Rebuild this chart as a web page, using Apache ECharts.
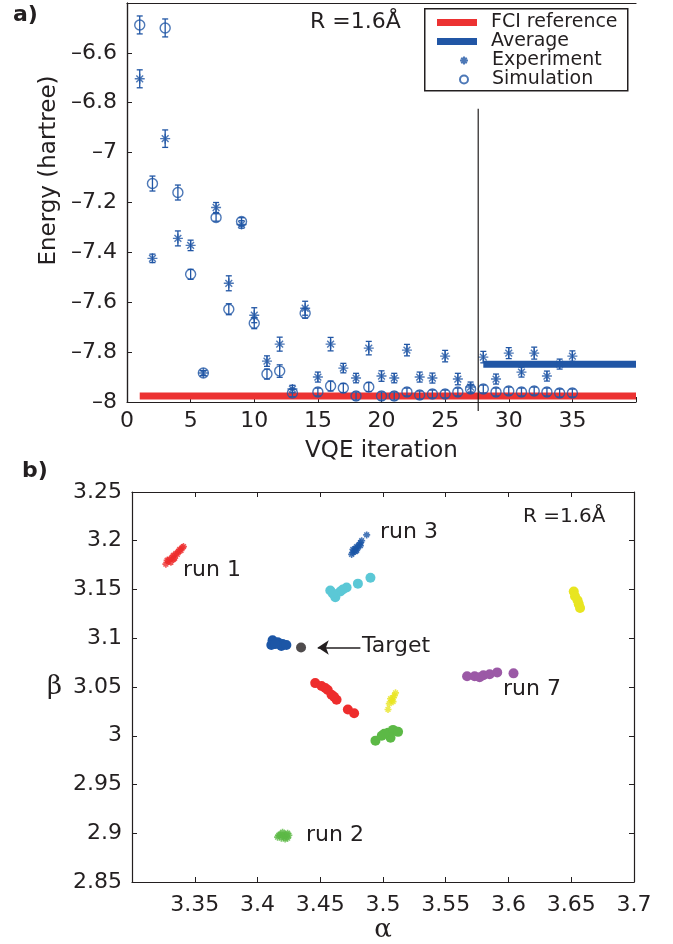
<!DOCTYPE html>
<html>
<head>
<meta charset="utf-8">
<script src="https://cdn.jsdelivr.net/npm/echarts@6/dist/echarts.min.js"></script>
<style>
  html, body { margin: 0; padding: 0; background: #fff; }
  #chart { width: 673px; height: 944px; }
</style>
</head>
<body>
<div id="chart"></div>
<script>
// ---- panel a: VQE iterations ----
const iterations = [1,2,3,4,5,6,7,8,9,10,11,12,13,14,15,16,17,18,19,20,21,22,23,24,25,26,27,28,29,30,31,32,33,34,35];
const experiment = [-6.704,-7.424,-6.944,-7.344,-7.372,-7.884,-7.22,-7.524,-7.288,-7.652,-7.836,-7.768,-7.948,-7.624,-7.9,-7.768,-7.864,-7.904,-7.784,-7.896,-7.904,-7.792,-7.9,-7.904,-7.816,-7.908,-7.94,-7.82,-7.908,-7.804,-7.88,-7.804,-7.896,-7.848,-7.816];
const experimentErr = [0.036,0.017,0.035,0.03,0.021,0.01,0.02,0.03,0.015,0.03,0.021,0.028,0.015,0.028,0.02,0.027,0.019,0.019,0.027,0.021,0.019,0.023,0.02,0.02,0.023,0.023,0.02,0.023,0.02,0.022,0.02,0.024,0.02,0.02,0.021];
const simulation = [-6.488,-7.124,-6.5,-7.16,-7.488,-7.884,-7.26,-7.628,-7.276,-7.684,-7.888,-7.876,-7.964,-7.644,-7.96,-7.936,-7.944,-7.976,-7.94,-7.976,-7.976,-7.96,-7.972,-7.968,-7.968,-7.96,-7.948,-7.948,-7.96,-7.956,-7.96,-7.956,-7.96,-7.964,-7.964];
const simulationErr = [0.036,0.03,0.036,0.03,0.02,0.01,0.015,0.022,0.015,0.022,0.02,0.025,0.015,0.02,0.016,0.02,0.018,0.016,0.018,0.016,0.016,0.016,0.016,0.016,0.016,0.016,0.016,0.016,0.016,0.016,0.016,0.016,0.016,0.016,0.016];
const fciReference = -7.976;
const fciRange = [1, 40];
const average = -7.849;
const averageRange = [28, 40];
const dividerX = 27.6;
const dividerRange = [-6.824, -8.036];

// ---- panel b: alpha / beta runs ----
const run1Red = [[3.327,3.176],[3.329,3.179],[3.330,3.181],[3.331,3.178],[3.332,3.183],[3.333,3.185],[3.334,3.182],[3.335,3.187],[3.337,3.189],[3.338,3.191],[3.340,3.193],[3.341,3.194],[3.328,3.180],[3.333,3.181],[3.336,3.186],[3.339,3.190]];
const run3Blue = [[3.475,3.186],[3.476,3.188],[3.477,3.190],[3.478,3.189],[3.478,3.192],[3.479,3.194],[3.480,3.193],[3.481,3.196],[3.482,3.198],[3.483,3.200],[3.476,3.191],[3.479,3.190],[3.482,3.195],[3.487,3.206]];
const run2Green = [[3.416,2.896],[3.418,2.899],[3.419,2.895],[3.420,2.898],[3.421,2.896],[3.422,2.899],[3.423,2.897],[3.424,2.895],[3.425,2.898],[3.417,2.898],[3.422,2.894],[3.420,2.901],[3.424,2.900]];
const yellowStars = [[3.504,3.027],[3.505,3.033],[3.507,3.036],[3.508,3.039],[3.509,3.041],[3.510,3.044],[3.508,3.035],[3.506,3.038]];
const blueDots = [[3.412,3.098],[3.416,3.096],[3.420,3.094],[3.411,3.093],[3.419,3.092],[3.414,3.094],[3.423,3.093]];
const cyanDots = [[3.458,3.149],[3.462,3.142],[3.466,3.148],[3.471,3.152],[3.468,3.150],[3.460,3.146],[3.480,3.156],[3.490,3.162]];
const redDots = [[3.446,3.054],[3.451,3.051],[3.456,3.047],[3.459,3.042],[3.463,3.037],[3.454,3.049],[3.461,3.040],[3.472,3.027],[3.477,3.023]];
const greenDots = [[3.494,2.995],[3.499,3.000],[3.504,3.003],[3.508,3.006],[3.512,3.004],[3.506,2.998],[3.501,3.002]];
const yellowDots = [[3.652,3.148],[3.653,3.143],[3.655,3.139],[3.656,3.135],[3.657,3.131]];
const purpleDots = [[3.567,3.061],[3.573,3.061],[3.580,3.062],[3.585,3.063],[3.591,3.065],[3.577,3.060],[3.604,3.064]];
const target = [3.4347, 3.0905];
const arrowFrom = [3.482, 3.0905];
const arrowTo = [3.448, 3.0905];

const ink = '#231f20';
const blue = '#2156a5';
const font = 'DejaVu Sans';
const starPath = 'path://M5,0L5,10M0,5L10,5M1.6,1.6L8.4,8.4M1.6,8.4L8.4,1.6';

function errorBars(values, errs, color) {
  return {
    type: 'custom',
    xAxisIndex: 0, yAxisIndex: 0,
    silent: true,
    data: iterations.map((it, i) => [it, values[i], errs[i]]),
    encode: { x: 0, y: 1 },
    renderItem(params, api) {
      const x = api.value(0), y = api.value(1), e = api.value(2);
      const top = api.coord([x, y + e]);
      const bot = api.coord([x, y - e]);
      const st = { stroke: color, lineWidth: 1.3 };
      return {
        type: 'group',
        children: [
          { type: 'line', shape: { x1: top[0], y1: top[1], x2: bot[0], y2: bot[1] }, style: st },
          { type: 'line', shape: { x1: top[0] - 3, y1: top[1], x2: top[0] + 3, y2: top[1] }, style: st },
          { type: 'line', shape: { x1: bot[0] - 3, y1: bot[1], x2: bot[0] + 3, y2: bot[1] }, style: st }
        ]
      };
    }
  };
}

function dots(data, color) {
  return { type: 'scatter', xAxisIndex: 2, yAxisIndex: 2, data, symbolSize: 10, itemStyle: { color, opacity: 1 }, silent: true };
}
function stars(data, color) {
  return {
    type: 'scatter', xAxisIndex: 2, yAxisIndex: 2, data, symbol: starPath, symbolSize: 7,
    itemStyle: { color, borderColor: color, borderWidth: 1.6 }, silent: true
  };
}

const labelStyle = { color: ink, fontFamily: font, fontSize: 22 };
const plainAxis = {
  axisLine: { show: true, lineStyle: { color: ink, width: 1.2 } },
  axisTick: { show: false },
  axisLabel: { show: false },
  splitLine: { show: false }
};
const legendText = { color: ink, fontFamily: font, fontSize: 19 };

const chart = echarts.init(document.getElementById('chart'));
chart.setOption({
  animation: false,
  textStyle: { fontFamily: font },
  grid: [
    { left: 127, top: 3, width: 509, height: 399 },
    { left: 132, top: 492, width: 502, height: 390 }
  ],
  xAxis: [
    {
      gridIndex: 0, type: 'value', min: 0, max: 40, interval: 5,
      name: 'VQE iteration', nameLocation: 'middle', nameGap: 38,
      nameTextStyle: { color: ink, fontFamily: font, fontSize: 23 },
      axisLine: { lineStyle: { color: ink, width: 1.2 } },
      axisTick: { inside: true, length: 5, lineStyle: { color: ink } },
      axisLabel: { ...labelStyle, margin: 8, formatter: v => (v === 40 ? '' : String(v)) },
      splitLine: { show: false }
    },
    { gridIndex: 0, type: 'value', min: 0, max: 40, position: 'top', ...plainAxis },
    {
      gridIndex: 1, type: 'value', min: 3.3, max: 3.7, interval: 0.05,
      name: 'α', nameLocation: 'middle', nameGap: 30,
      nameTextStyle: { color: ink, fontFamily: 'DejaVu Serif', fontSize: 26 },
      axisLine: { lineStyle: { color: ink, width: 1.2 } },
      axisTick: { inside: true, length: 5, lineStyle: { color: ink } },
      axisLabel: { ...labelStyle, margin: 12, formatter: v => (Math.abs(v - 3.3) < 1e-6 ? '' : String(+v.toFixed(2))) },
      splitLine: { show: false }
    },
    {
      gridIndex: 1, type: 'value', min: 3.3, max: 3.7, interval: 0.05, position: 'top',
      ...plainAxis, axisTick: { show: true, inside: true, length: 5, lineStyle: { color: ink } }
    }
  ],
  yAxis: [
    {
      gridIndex: 0, type: 'value', min: -8, max: -6.4, interval: 0.2,
      name: 'Energy (hartree)', nameLocation: 'middle', nameGap: 66, nameRotate: 90,
      nameTextStyle: { color: ink, fontFamily: font, fontSize: 23, padding: [0, 0, 0, 64] },
      axisLine: { lineStyle: { color: ink, width: 1.2 } },
      axisTick: { inside: true, length: 5, lineStyle: { color: ink } },
      axisLabel: {
        ...labelStyle, margin: 10,
        formatter: v => (Math.abs(v + 6.4) < 1e-6 ? '' : String(+v.toFixed(1)).replace('-', '\u2013'))
      },
      splitLine: { show: false }
    },
    { gridIndex: 0, type: 'value', min: -8, max: -6.4, position: 'right', ...plainAxis },
    {
      gridIndex: 1, type: 'value', min: 2.85, max: 3.25, interval: 0.05,
      name: 'β', nameLocation: 'middle', nameGap: 70, nameRotate: 0,
      nameTextStyle: { color: ink, fontFamily: 'DejaVu Serif', fontSize: 26 },
      axisLine: { lineStyle: { color: ink, width: 1.2 } },
      axisTick: { inside: true, length: 5, lineStyle: { color: ink } },
      axisLabel: { ...labelStyle, margin: 10, formatter: v => String(+v.toFixed(2)) },
      splitLine: { show: false }
    },
    {
      gridIndex: 1, type: 'value', min: 2.85, max: 3.25, interval: 0.05, position: 'right',
      ...plainAxis, axisTick: { show: true, inside: true, length: 5, lineStyle: { color: ink } }
    }
  ],
  legend: [
    {
      left: 432, top: 8, orient: 'vertical', itemWidth: 40, itemHeight: 7, itemGap: 0,
      data: [{ name: 'FCI reference', icon: 'rect' }, { name: 'Average', icon: 'rect' }],
      textStyle: { ...legendText, padding: [0, 0, 0, 9] },
      selectedMode: false
    },
    {
      left: 454, top: 46, orient: 'vertical', itemWidth: 8, itemHeight: 8, itemGap: 0,
      data: ['Experiment', 'Simulation'],
      textStyle: { ...legendText, padding: [0, 0, 0, 19] },
      selectedMode: false
    }
  ],
  graphic: [
    { type: 'rect', left: 424, top: 8, z: 3, shape: { width: 203, height: 82 }, style: { fill: '#fff', stroke: ink, lineWidth: 1.5 } },
    { type: 'text', left: 13, top: 4, style: { text: 'a)', fill: ink, font: 'bold 22px "DejaVu Sans"' } },
    { type: 'text', left: 22, top: 460, style: { text: 'b)', fill: ink, font: 'bold 22px "DejaVu Sans"' } },
    { type: 'text', left: 310, top: 11, style: { text: 'R =1.6Å', fill: ink, font: '22px "DejaVu Sans"' } },
    { type: 'text', left: 523, top: 507, style: { text: 'R =1.6Å', fill: ink, font: '20px "DejaVu Sans"' } },
    { type: 'text', left: 183, top: 559, style: { text: 'run 1', fill: ink, font: '22px "DejaVu Sans"' } },
    { type: 'text', left: 380, top: 521, style: { text: 'run 3', fill: ink, font: '22px "DejaVu Sans"' } },
    { type: 'text', left: 362, top: 635, style: { text: 'Target', fill: ink, font: '22px "DejaVu Sans"' } },
    { type: 'text', left: 503, top: 678, style: { text: 'run 7', fill: ink, font: '22px "DejaVu Sans"' } },
    { type: 'text', left: 306, top: 824, style: { text: 'run 2', fill: ink, font: '22px "DejaVu Sans"' } }
  ],
  series: [
    {
      name: 'FCI reference', type: 'line', xAxisIndex: 0, yAxisIndex: 0, symbol: 'none', z: 1,
      data: fciRange.map(x => [x, fciReference]),
      color: '#ec3232', lineStyle: { color: '#ec3232', width: 7 }
    },
    {
      name: 'Average', type: 'line', xAxisIndex: 0, yAxisIndex: 0, symbol: 'none', z: 1,
      data: averageRange.map(x => [x, average]),
      color: blue, lineStyle: { color: blue, width: 7 }
    },
    {
      name: 'divider', type: 'line', xAxisIndex: 0, yAxisIndex: 0, symbol: 'none', clip: false, silent: true,
      data: dividerRange.map(y => [dividerX, y]),
      lineStyle: { color: ink, width: 1.2 }
    },
    errorBars(experiment, experimentErr, blue),
    errorBars(simulation, simulationErr, blue),
    {
      name: 'Experiment', type: 'scatter', xAxisIndex: 0, yAxisIndex: 0,
      data: iterations.map((it, i) => [it, experiment[i]]),
      symbol: starPath, symbolSize: 10, color: blue,
      itemStyle: { color: blue, borderColor: blue, borderWidth: 1.4 }
    },
    {
      name: 'Simulation', type: 'scatter', xAxisIndex: 0, yAxisIndex: 0,
      data: iterations.map((it, i) => [it, simulation[i]]),
      symbol: 'circle', symbolSize: 10, color: blue,
      itemStyle: { color: 'rgba(255,255,255,0)', borderColor: blue, borderWidth: 1.4 }
    },
    stars(run1Red, '#ee2d2d'),
    stars(run3Blue, '#1c56a6'),
    stars(run2Green, '#5cb946'),
    stars(yellowStars, '#e8e520'),
    dots(blueDots, '#1c56a6'),
    dots(cyanDots, '#5bc8d6'),
    dots(redDots, '#ee2d2d'),
    dots(greenDots, '#5cb946'),
    dots(yellowDots, '#e8e520'),
    dots(purpleDots, '#9b59a6'),
    {
      type: 'scatter', xAxisIndex: 2, yAxisIndex: 2, data: [target], symbolSize: 10,
      itemStyle: { color: ink }, silent: true,
      markLine: {
        silent: true, symbol: ['none', 'arrow'], symbolSize: 11,
        lineStyle: { color: ink, width: 1.5, type: 'solid' }, label: { show: false },
        data: [[{ coord: arrowFrom }, { coord: arrowTo }]]
      }
    }
  ]
});
</script>
</body>
</html>
